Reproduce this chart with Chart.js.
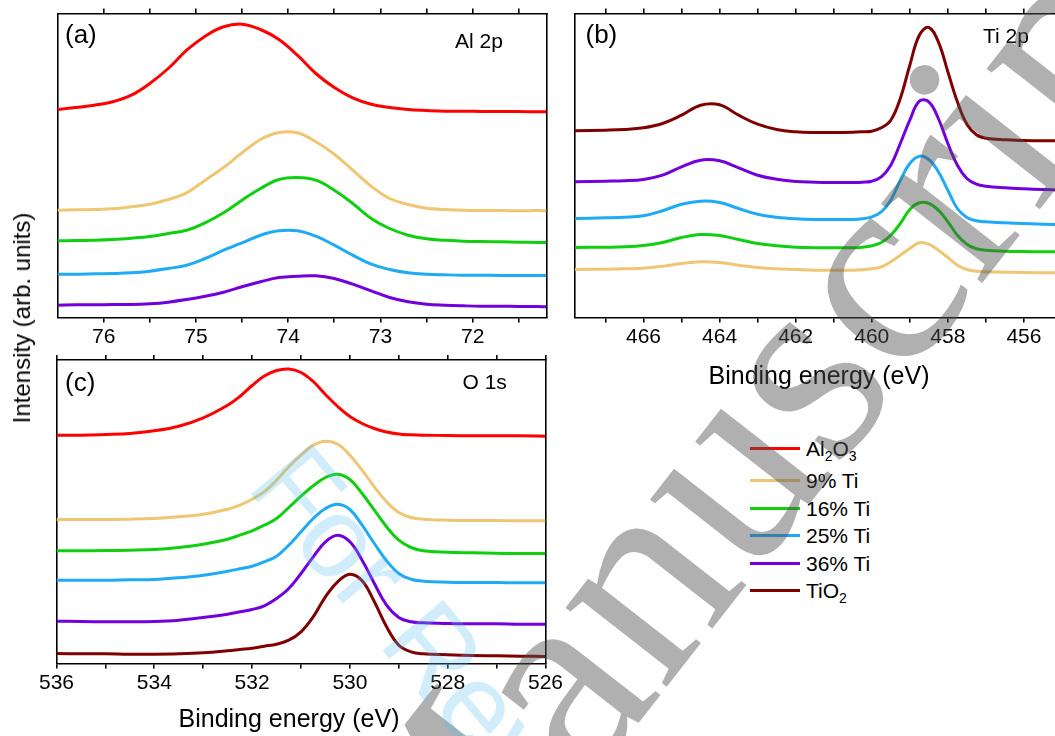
<!DOCTYPE html>
<html>
<head>
<meta charset="utf-8">
<script src="https://cdn.jsdelivr.net/npm/chart.js@4.4.1/dist/chart.umd.min.js"></script>
<style>
  body { margin: 0; width: 1055px; height: 736px; overflow: hidden; position: relative; background: #fff;
         font-family: 'Liberation Sans', Arial, sans-serif; color: #000; }
  canvas { position: absolute; }
  .txt { position: absolute; white-space: nowrap; line-height: 1; }
  .leg-line { position: absolute; left: 750px; width: 50px; height: 3px; }
  .leg-txt { position: absolute; left: 806px; font-size: 21px; line-height: 1; white-space: nowrap; }
  .leg-txt sub { font-size: 14px; vertical-align: -5px; line-height: 0; }
</style>
</head>
<body>

<canvas id="chartA" width="580" height="360" style="left:0;top:0"></canvas>
<canvas id="chartB" width="520" height="400" style="left:560px;top:0"></canvas>
<canvas id="chartC" width="580" height="396" style="left:0;top:340px"></canvas>

<div class="txt" style="left:22px;top:317.5px;font-size:24px;transform:translate(-50%,-50%) rotate(-90deg)">Intensity (arb. units)</div>
<div class="txt" style="left:819px;top:375px;font-size:25px;transform:translate(-50%,-50%)">Binding energy (eV)</div>
<div class="txt" style="left:289px;top:717.5px;font-size:25px;transform:translate(-50%,-50%)">Binding energy (eV)</div>

<div class="txt" style="left:65px;top:21px;font-size:26px">(a)</div>
<div class="txt" style="left:455px;top:29.5px;font-size:21px">Al 2p</div>
<div class="txt" style="left:585.5px;top:21px;font-size:26px">(b)</div>
<div class="txt" style="left:983px;top:24.5px;font-size:21px">Ti 2p</div>
<div class="txt" style="left:65px;top:368.5px;font-size:26px">(c)</div>
<div class="txt" style="left:462.5px;top:370.5px;font-size:21px">O 1s</div>

<div id="legend"></div>

<svg width="1055" height="736" style="position:absolute;left:0;top:0;pointer-events:none">
  <text x="433" y="986" transform="rotate(-52 433 986)" font-family="'Liberation Serif', serif" font-size="280"
        fill="rgb(80,80,80)" fill-opacity="0.45">Manuscript</text>
  <text x="245" y="487" transform="rotate(50 245 487)" font-family="'Liberation Sans', sans-serif" font-size="115"
        fill="rgb(90,190,245)" fill-opacity="0.28">For Review Only</text>
</svg>

<script>
// sample names and line colours (same order everywhere)
const seriesNames = ['Al2O3', '9% Ti', '16% Ti', '25% Ti', '36% Ti', 'TiO2'];
const legendHTML = ['Al<sub>2</sub>O<sub>3</sub>', '9% Ti', '16% Ti', '25% Ti', '36% Ti', 'TiO<sub>2</sub>'];
const seriesColors = ['#ff0000', '#efc673', '#10cf10', '#1faaf5', '#7100dc', '#7f0000'];

// (a) Al 2p, intensities are offset stacked (arb. units)
const energyA = [76.5, 76.3, 76.1, 75.9, 75.7, 75.5, 75.3, 75.1, 74.9, 74.7, 74.5, 74.3, 74.1, 73.9,
                 73.7, 73.5, 73.3, 73.1, 72.9, 72.7, 72.5, 72.3, 72.1, 71.9, 71.7, 71.5, 71.3, 71.2];
const al2o3A = [208, 210, 212.3, 215.7, 222.3, 234, 249, 267.3, 281.3, 290.7, 293.3, 288, 278, 262.3,
                244, 230, 219.7, 213.3, 210, 208, 207, 206.3, 206.3, 206, 206, 206, 205.7, 205.7];
const ti9A = [107.3, 107.7, 108, 108.7, 110.7, 113.3, 118, 124.7, 137.3, 150, 164.7, 178, 185, 184.7,
              175.7, 163.3, 147.3, 131.3, 119, 113, 109.3, 108, 107.3, 107, 107, 106.7, 107, 106.7];
const ti16A = [76.7, 77, 77.3, 78, 79.3, 81, 84, 87.3, 94.7, 104.7, 117.3, 129, 138, 140,
               137.3, 127.3, 114, 99, 89, 82.3, 78.7, 77.3, 76.3, 76, 75.7, 75.3, 75, 75];
const ti25A = [43.3, 43.3, 43.7, 44, 44.7, 46.3, 49, 52.3, 59, 67.3, 74.7, 82.3, 86.7, 86.7,
               81.3, 72.3, 62.3, 53.3, 48, 44.7, 43.3, 42.7, 42.3, 42.3, 42, 42, 42, 42];
const ti36A = [12.3, 12.7, 12.7, 13, 13, 13.7, 15.3, 18, 21.3, 25.3, 30.7, 35.7, 40, 41.3,
               41.7, 39, 33.3, 26.7, 20, 15.7, 13.3, 12.3, 11.7, 11.3, 11.3, 11, 11, 10.7];
const ticksA = [71.5, 72, 72.5, 73, 73.5, 74, 74.5, 75, 75.5, 76];
const labelsA = [72, 73, 74, 75, 76];

// (b) Ti 2p
const energyB = [467.8, 467, 466.5, 466, 465.5, 465, 464.5, 464, 463.5, 463, 462.5, 462, 461.5, 461, 460.5,
                 460.25, 460, 459.75, 459.5, 459.25, 459, 458.75, 458.5, 458.25, 458, 457.75, 457.5, 457.25,
                 457, 456.5, 456, 455.5, 455];
const tio2B = [186.7, 187.3, 188, 189.7, 194, 202.3, 212.3, 212.7, 202.3, 193.3, 188, 185.7, 185, 185, 185.3,
               185.7, 186.3, 189.7, 197.3, 219, 252.3, 282.3, 290, 275.7, 245.7, 215.7, 193.3, 182.7,
               179.3, 177.7, 177, 176.7, 176.7];
const ti36B = [135.7, 136.3, 136.7, 138, 142.3, 150.7, 157.3, 156.7, 149.7, 142.3, 138.3, 136, 135.3, 135, 135,
               135.3, 136.3, 140.7, 152.3, 174, 197.3, 216.3, 215.7, 199, 174, 152.3, 139, 133.3,
               131.3, 129.7, 128.7, 128, 127.3];
const ti25B = [99, 99.7, 100.3, 101.7, 106.7, 113.3, 116.3, 115, 109, 103.3, 100.3, 98.7, 98, 98, 98,
               98.7, 100.7, 105.7, 117.3, 137.3, 154, 161.3, 158, 145.7, 127.3, 109, 100, 96.7,
               95.7, 94.7, 94, 93.3, 93];
const ti16B = [70, 70.3, 70.7, 72, 75, 80, 83, 82, 78, 74, 71.7, 70.3, 69.7, 69.7, 69.7,
               70.3, 71.7, 75, 82.3, 94, 108, 114.7, 114, 107.3, 95.7, 82.3, 73.3, 68.7,
               67.3, 66.3, 66, 65.7, 65.7];
const ti9B = [48, 48.3, 48.7, 49.3, 51.3, 54, 55.7, 55, 52.3, 50, 48.7, 48, 47.3, 47.3, 47.3,
              47.7, 48.7, 50.7, 55.7, 62.3, 69, 74.7, 73.3, 67.3, 60, 52.3, 48, 46.3,
              45.7, 45.3, 45, 44.7, 44.7];
const ticksB = [456, 457, 458, 459, 460, 461, 462, 463, 464, 465, 466, 467];
const labelsB = [456, 458, 460, 462, 464, 466];

// (c) O 1s
const energyC = [536, 535.5, 535, 534.5, 534, 533.5, 533, 532.5, 532.25, 532, 531.75, 531.5, 531.25, 531,
                 530.75, 530.5, 530.25, 530, 529.75, 529.5, 529.25, 529, 528.75, 528.5, 528, 527.5, 527,
                 526.5, 526];
const al2o3C = [228.3, 228.3, 229, 230, 232.7, 237.3, 245.7, 258.3, 267, 278, 287.5, 293, 294.5, 291,
                282, 269, 257, 247, 240, 235, 231.5, 229.5, 228.7, 228.3, 228, 227.7, 227.7,
                227.7, 227.3];
const ti9C = [144, 144, 144, 144.3, 145, 146.7, 149.3, 154.3, 158.3, 164.3, 171.7, 183.3, 196.7, 208.3,
              218.3, 222.3, 219.3, 208.3, 193.3, 176.7, 161.7, 151, 146, 144.3, 143.3, 143, 143,
              142.7, 142.7];
const ti16C = [112.7, 112.7, 113, 113.3, 114, 116, 119.3, 124.3, 128.3, 132.7, 138.3, 145, 156, 167.3,
               177.7, 186, 189.3, 184, 170, 153.3, 136.7, 123.3, 116, 112.7, 111.3, 110.7, 110.3,
               110, 110];
const ti25C = [83.3, 83.3, 83.3, 83.7, 84, 85.7, 88.3, 92.3, 94.7, 97.3, 101.7, 107.3, 118.3, 131.7,
               145, 155, 159.3, 154, 138.3, 120, 102.7, 90, 84.3, 82.3, 81.3, 81, 81, 80.7, 80.7];
const ti36C = [42.3, 42, 41.7, 41.7, 42, 43.3, 46, 49.3, 51.7, 54, 57.7, 65, 75, 90,
               106.7, 121.7, 128.3, 121.7, 103.3, 80, 58.3, 46, 41.7, 40.7, 40, 39.7, 39.7, 39.3, 39.3];
const tio2C = [10, 9.7, 9.7, 9.3, 9.3, 9.7, 10.7, 12.7, 14, 15.3, 17.3, 19.3, 23.3, 31.7,
               46.7, 66.7, 81.7, 89.3, 82.7, 61.7, 36.7, 18.3, 11.7, 9.7, 8.7, 8, 7.7, 7.3, 7];
const ticksC = [526, 527, 528, 529, 530, 531, 532, 533, 534, 535, 536];
const labelsC = [526, 528, 530, 532, 534, 536];

Chart.defaults.font.family = "'Liberation Sans', Arial, sans-serif";
Chart.defaults.color = '#000';

function xAxis(pos, min, max, tickVals, labelVals, size) {
  return {
    type: 'linear', position: pos, reverse: true, min: min, max: max, bounds: 'data',
    afterBuildTicks: s => { s.ticks = tickVals.map(v => ({ value: v })); },
    afterFit: s => { s.height = size; },
    grid: { drawOnChartArea: false, drawTicks: true, tickLength: 5, tickWidth: 1.6, tickColor: '#000',
            lineWidth: 1.6, color: '#000' },
    border: { display: true, color: '#000', width: 1.6 },
    ticks: {
      autoSkip: false, maxRotation: 0, minRotation: 0, padding: 2.4, color: '#000', font: { size: 21 },
      callback: v => (pos === 'bottom' && labelVals.includes(v)) ? String(v) : ''
    }
  };
}

function yAxis(pos, max) {
  return {
    type: 'linear', position: pos, min: 0, max: max, display: true,
    afterFit: s => { s.width = 0; },
    grid: { display: false },
    border: { display: true, color: '#000', width: 1.6 },
    ticks: { display: false }
  };
}

function makePanel(id, energy, series, cfg) {
  const datasets = series.map(s => ({
    label: seriesNames[s.k],
    data: energy.map((e, i) => ({ x: e, y: s.v[i] })),
    borderColor: seriesColors[s.k],
    borderWidth: 3,
    pointRadius: 0,
    fill: false,
    tension: 0.4,
    xAxisID: 'x', yAxisID: 'y'
  }));
  return new Chart(document.getElementById(id), {
    type: 'line',
    data: { datasets: datasets },
    options: {
      responsive: false, animation: false, devicePixelRatio: 1, events: [],
      layout: { padding: { left: cfg.padL, right: cfg.padR, top: 0, bottom: 0 } },
      plugins: { legend: { display: false }, tooltip: { enabled: false } },
      scales: {
        x: xAxis('bottom', cfg.min, cfg.max, cfg.ticks, cfg.labels, cfg.bottomH),
        x2: xAxis('top', cfg.min, cfg.max, cfg.ticks, cfg.labels, cfg.topH),
        y: yAxis('left', cfg.yMax),
        y2: yAxis('right', cfg.yMax)
      }
    }
  });
}

makePanel('chartA', energyA, [
  { k: 0, v: al2o3A }, { k: 1, v: ti9A }, { k: 2, v: ti16A }, { k: 3, v: ti25A }, { k: 4, v: ti36A }
], { min: 71.2, max: 76.5, ticks: ticksA, labels: labelsA, padL: 57.5, padR: 33.5, topH: 13.5, bottomH: 42.5, yMax: 304 });

makePanel('chartB', energyB, [
  { k: 5, v: tio2B }, { k: 4, v: ti36B }, { k: 3, v: ti25B }, { k: 2, v: ti16B }, { k: 1, v: ti9B }
], { min: 455, max: 467.8, ticks: ticksB, labels: labelsB, padL: 15, padR: 18, topH: 13.5, bottomH: 82.5, yMax: 304 });

makePanel('chartC', energyC, [
  { k: 0, v: al2o3C }, { k: 1, v: ti9C }, { k: 2, v: ti16C }, { k: 3, v: ti25C }, { k: 4, v: ti36C }, { k: 5, v: tio2C }
], { min: 526, max: 536, ticks: ticksC, labels: labelsC, padL: 56.5, padR: 34.5, topH: 20, bottomH: 72.5, yMax: 303.5 });

// legend, drawn as html next to panel (c)
const legendRowsY = [448.3, 480.5, 508, 535.5, 563, 590.5];
const leg = document.getElementById('legend');
seriesNames.forEach((name, i) => {
  const line = document.createElement('div');
  line.className = 'leg-line';
  line.style.top = (legendRowsY[i] - 1.5) + 'px';
  line.style.background = seriesColors[i];
  leg.appendChild(line);
  const t = document.createElement('div');
  t.className = 'leg-txt';
  t.style.top = (legendRowsY[i] - 10.5) + 'px';
  t.innerHTML = legendHTML[i];
  leg.appendChild(t);
});
</script>
</body>
</html>
